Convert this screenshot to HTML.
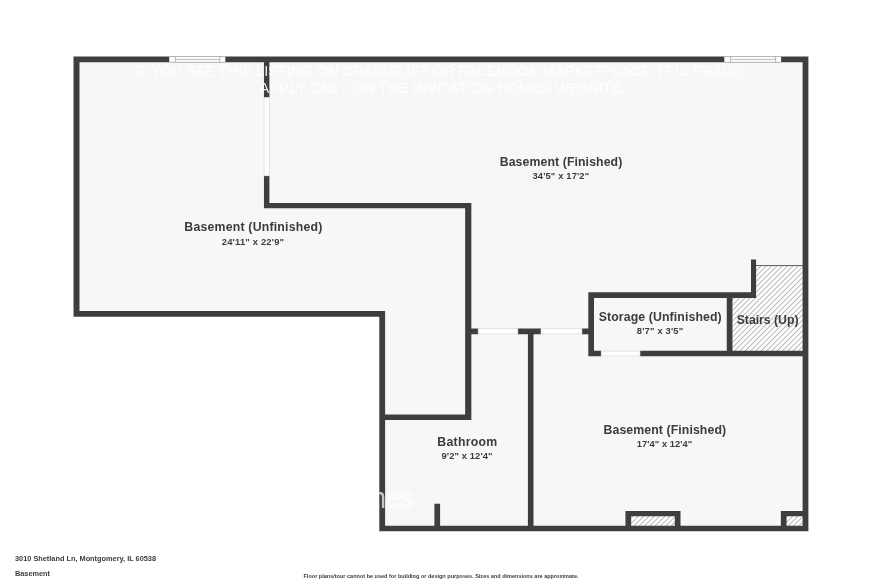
<!DOCTYPE html>
<html><head><meta charset="utf-8"><title>Floor plan</title>
<style>
html,body{margin:0;padding:0;background:#fff;}
body{width:882px;height:588px;overflow:hidden;}
svg{display:block;}
text{font-family:"Liberation Sans","DejaVu Sans",sans-serif;fill:#3c3c3e;}
.t{font-size:12.3px;font-weight:bold;text-anchor:middle;}
.d{font-size:9.4px;font-weight:bold;text-anchor:middle;}
.w{fill:#fff;font-weight:normal;fill-opacity:.9;}
</style></head><body>
<svg width="882" height="588" viewBox="0 0 882 588">
<defs>
<pattern id="h" width="3.76" height="3.76" patternUnits="userSpaceOnUse" patternTransform="rotate(45)">
<rect width="3.76" height="3.76" fill="#fdfdfd"/>
<rect x="0" y="0" width="0.9" height="3.76" fill="#b4b4b4"/>
</pattern>
<filter id="nf" x="0" y="0" width="882" height="588" filterUnits="userSpaceOnUse"><feOffset dx="0" dy="0"/></filter>
</defs>
<rect width="882" height="588" fill="#fff"/>
<!-- floor -->
<path d="M76.5 59.400000000000006H805.5V528.5250000000001H382.20000000000005V313.875H76.5Z" fill="#f7f7f7"/>
<!-- hatches -->
<path d="M753.55 265.6H805.5V353.525H729.6V295.1H753.55Z" fill="url(#h)"/>
<rect x="628.3" y="513.6500000000001" width="49.35000000000002" height="14.875" fill="url(#h)"/>
<rect x="783.7" y="513.6500000000001" width="21.799999999999955" height="14.875" fill="url(#h)"/>
<rect x="753.55" y="265.15" width="51.950000000000045" height="0.9" fill="#4a4a4a"/>
<!-- walls -->
<path fill="#3e3e40" d="M73.50 56.45H808.40V62.35H73.50ZM73.50 56.45H79.50V316.65H73.50ZM73.50 311.10H385.10V316.65H73.50ZM379.30 311.10H385.10V531.20H379.30ZM379.30 525.85H808.40V531.20H379.30ZM802.60 56.45H808.40V531.20H802.60ZM263.95 59.40H269.40V97.60H263.95ZM263.95 175.80H269.40V208.30H263.95ZM263.95 203.10H471.35V208.30H263.95ZM465.15 203.10H471.35V420.05H465.15ZM382.20 414.55H471.35V420.05H382.20ZM468.25 328.45H478.20V334.15H468.25ZM517.80 328.45H541.00V334.15H517.80ZM581.90 328.45H591.15V334.15H581.90ZM527.90 331.30H533.50V528.53H527.90ZM588.30 292.25H594.00V356.20H588.30ZM588.30 292.25H756.10V297.95H588.30ZM751.00 259.60H756.10V297.95H751.00ZM726.75 295.10H732.45V353.52H726.75ZM588.30 350.85H601.20V356.20H588.30ZM640.00 350.85H805.50V356.20H640.00ZM434.40 503.80H440.10V528.53H434.40ZM625.45 511.10H680.50V516.20H625.45ZM625.45 511.10H631.15V528.53H625.45ZM674.80 511.10H680.50V528.53H674.80ZM780.85 511.10H805.50V516.20H780.85ZM780.85 511.10H786.55V528.53H780.85Z"/>
<!-- doors -->
<g fill="#fff" stroke="#d6d6d6" stroke-width="0.6">
<rect x="264.05" y="97.6" width="5.2499999999999885" height="78.2"/>
<rect x="478.2" y="328.75" width="39.6" height="5.099999999999989"/>
<rect x="541" y="328.75" width="40.9" height="5.099999999999989"/>
<rect x="601.2" y="351.15000000000003" width="38.8" height="4.749999999999966"/>
</g>
<!-- windows -->
<rect x="169.2" y="56.2" width="56.10000000000002" height="6.399999999999999" fill="#fff"/><path d="M169.2 56.550000000000004H225.3M175.29999999999998 59.400000000000006H219.8M169.2 62.25H225.3M175.29999999999998 56.45V62.35M219.8 56.45V62.35" stroke="#8f8f8f" stroke-width="0.6" fill="none"/>
<rect x="724.3" y="56.2" width="56.80000000000007" height="6.399999999999999" fill="#fff"/><path d="M724.3 56.550000000000004H781.1M730.4 59.400000000000006H775.6M724.3 62.25H781.1M730.4 56.45V62.35M775.6 56.45V62.35" stroke="#8f8f8f" stroke-width="0.6" fill="none"/>
<!-- labels -->
<g filter="url(#nf)">
<text class="w" transform="translate(413.8,508) scale(0.88,1)" font-size="30" text-anchor="end" style="fill-opacity:.7">invitation homes</text>
<text class="w" x="134" y="76" font-size="14.5" textLength="613.1" lengthAdjust="spacingAndGlyphs">IF YOU SEE THIS LISTING ON CRAIGSLIST OR FACEBOOK MARKETPLACE, IT IS FRAUD.</text>
<text class="w" x="259.6" y="92.9" font-size="14.5" textLength="366" lengthAdjust="spacingAndGlyphs">APPLY ONLY ON THE INVITATION HOMES WEBSITE.</text>
<text class="t" x="253.3" y="230.8" textLength="138" lengthAdjust="spacing">Basement (Unfinished)</text>
<text class="d" x="252.9" y="244.7" textLength="62.2" lengthAdjust="spacing">24'11" x 22'9"</text>
<text class="t" x="561" y="165.8" textLength="122.6" lengthAdjust="spacing">Basement (Finished)</text>
<text class="d" x="560.8" y="179.3" textLength="56.7" lengthAdjust="spacing">34'5" x 17'2"</text>
<text class="t" x="660.2" y="321.2" textLength="123" lengthAdjust="spacing">Storage (Unfinished)</text>
<text class="d" x="660" y="334.4" textLength="46.4" lengthAdjust="spacing">8'7" x 3'5"</text>
<text class="t" x="767.6" y="323.7" textLength="61.8" lengthAdjust="spacing">Stairs (Up)</text>
<text class="t" x="467.3" y="446" textLength="60" lengthAdjust="spacing">Bathroom</text>
<text class="d" x="467" y="459" textLength="51" lengthAdjust="spacing">9'2" x 12'4"</text>
<text class="t" x="664.8" y="433.5" textLength="122.6" lengthAdjust="spacing">Basement (Finished)</text>
<text class="d" x="664.5" y="446.6" textLength="55.3" lengthAdjust="spacing">17'4" x 12'4"</text>
<text x="15" y="561.2" font-size="7.6" font-weight="bold" textLength="141" lengthAdjust="spacingAndGlyphs">3010 Shetland Ln, Montgomery, IL 60538</text>
<text x="15" y="576" font-size="7.6" font-weight="bold" textLength="35" lengthAdjust="spacingAndGlyphs">Basement</text>
<text x="441" y="578" font-size="5.6" font-weight="bold" text-anchor="middle" textLength="275" lengthAdjust="spacingAndGlyphs">Floor plans/tour cannot be used for building or design purposes. Sizes and dimensions are approximate.</text>
</g>
</svg>
</body></html>
